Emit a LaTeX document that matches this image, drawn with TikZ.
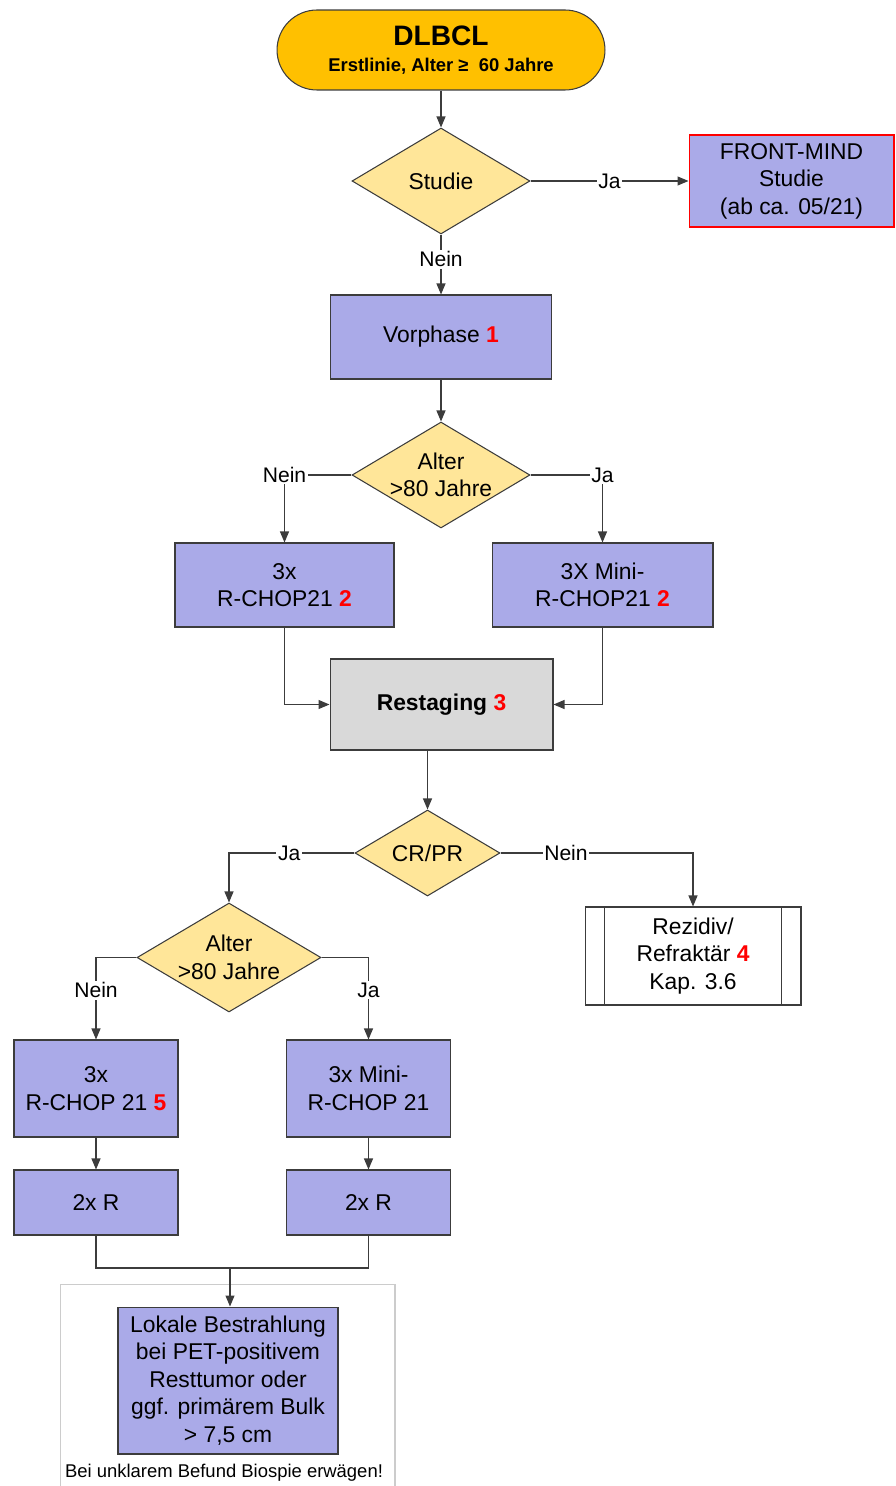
\documentclass[tikz,border=0pt]{standalone}
\usepackage{fontspec}
\setmainfont{Liberation Sans}
\usetikzlibrary{shapes.geometric,arrows.meta}
\definecolor{startcol}{RGB}{255,192,0}
\definecolor{decicol}{RGB}{255,230,153}
\definecolor{boxcol}{RGB}{170,170,232}
\definecolor{restcol}{RGB}{217,217,217}
\definecolor{linecol}{RGB}{60,60,60}
\def\refnum#1{\textcolor{red}{\textbf{#1}}}
\tikzset{
	box/.style={draw=linecol, fill=boxcol, align=center, inner sep=2pt, line width=0.6pt, font=\fontsize{13}{15.6}\selectfont},
	decision/.style={diamond, draw=linecol, fill=decicol, align=center, inner sep=0pt, aspect=1.68, line width=0.6pt, font=\fontsize{13}{15.6}\selectfont},
	lbl/.style={fill=white, inner sep=1pt, font=\fontsize{12}{14}\selectfont},
	conn/.style={draw=linecol, line width=0.6pt},
	arr/.style={conn, -{Triangle[length=2.2mm,width=1.8mm]}}
}

\begin{document}
\begin{tikzpicture}[x=0.02cm, y=-0.02cm]
		%%%%% START %%%%%
		\useasboundingbox (0,0) rectangle (895,1486);
		
		\node[draw=linecol, fill=startcol, line width=0.6pt, rounded corners=0.8cm, minimum width=6.56cm, minimum height=1.6cm, align=center, font=\bfseries] (dlbcl) at (441,50) {{\fontsize{16}{18}\selectfont DLBCL}\\[3pt]{\fontsize{10.5}{12.6}\selectfont Erstlinie, Alter ≥ \ 60 Jahre}};
		
		\node[decision, minimum width=3.56cm, minimum height=2.12cm] (studie) at (441,181) {Studie};
		\node[box, draw=red, minimum width=4.1cm, minimum height=1.84cm] (front) at (791.5,181) {FRONT-MIND\\Studie\\(ab ca. 05/21)};
		\node[box, minimum width=4.42cm, minimum height=1.68cm] (vor) at (441,337) {Vorphase \refnum{1}};
		
		\node[decision, minimum width=3.56cm, minimum height=2.12cm] (alter1) at (441,475) {Alter\\>80 Jahre};
		\node[box, minimum width=4.38cm, minimum height=1.68cm] (rchop1) at (284.5,585) {3x\\R-CHOP21 \refnum{2}};
		\node[box, minimum width=4.42cm, minimum height=1.68cm] (mini1) at (602.5,585) {3X Mini-\\R-CHOP21 \refnum{2}};
		\node[box, fill=restcol, minimum width=4.46cm, minimum height=1.82cm, font=\fontsize{13}{15.6}\selectfont\bfseries] (rest) at (441.5,704.5) {Restaging \refnum{3}};
		
		\node[decision, minimum width=2.9cm, minimum height=1.72cm] (crpr) at (427.5,853) {CR/PR};
		\node[box, fill=white, minimum width=4.32cm, minimum height=1.96cm] (rez) at (693,956) {Rezidiv/\\Refraktär \refnum{4}\\Kap. 3.6};
		\draw[conn] ([xshift=0.4cm]rez.north west) -- ([xshift=0.4cm]rez.south west);
		\draw[conn] ([xshift=-0.4cm]rez.north east) -- ([xshift=-0.4cm]rez.south east);
		
		\node[decision, minimum width=3.68cm, minimum height=2.18cm] (alter2) at (229,957.5) {Alter\\>80 Jahre};
		\node[box, minimum width=3.28cm, minimum height=1.94cm] (rchop2) at (96,1088.5) {3x\\R-CHOP 21 \refnum{5}};
		\node[box, minimum width=3.28cm, minimum height=1.94cm] (mini2) at (368.5,1088.5) {3x Mini-\\R-CHOP 21};
		\node[box, minimum width=3.28cm, minimum height=1.3cm] (rr1) at (96,1202.5) {2x R};
		\node[box, minimum width=3.28cm, minimum height=1.3cm] (rr2) at (368.5,1202.5) {2x R};
		
		\node[draw=black!20, line width=0.6pt, minimum width=6.7cm, minimum height=4.22cm] (rahmen) at (227.5,1389.5) {};
		\node[box, minimum width=4.4cm, minimum height=2.94cm] (lok) at (228,1380.5) {Lokale Bestrahlung\\bei PET-positivem\\Resttumor oder\\ggf. primärem Bulk\\> 7,5 cm};
		\node[font=\fontsize{10.5}{12}\selectfont] (hinweis) at (224,1473) {Bei unklarem Befund Biospie erwägen!};
		
		\draw[arr] (dlbcl) -- (studie);
		\draw[arr] (studie) -- node[lbl]{Ja} (front);
		\draw[arr] (studie) -- node[lbl, pos=0.41]{Nein} (vor);
		\draw[arr] (vor) -- (alter1);
		\draw[arr] (alter1.west) -| node[lbl]{Nein} (rchop1.north);
		\draw[arr] (alter1.east) -| node[lbl]{Ja} (mini1.north);
		\draw[arr] (rchop1.south) |- (rest.west);
		\draw[arr] (mini1.south) |- (rest.east);
		\draw[arr] (rest.south -| crpr.north) -- (crpr.north);
		\draw[arr] (crpr.west) -| node[lbl, pos=0.26]{Ja} (alter2.north);
		\draw[arr] (crpr.east) -| node[lbl, pos=0.17]{Nein} (rez.north);
		\draw[arr] (alter2.west) -| node[lbl, pos=0.7]{Nein} (rchop2.north);
		\draw[arr] (alter2.east) -| node[lbl, pos=0.7]{Ja} (mini2.north);
		\draw[arr] (rchop2) -- (rr1);
		\draw[arr] (mini2) -- (rr2);
		
		\coordinate (join) at (230,1268);
		\draw[conn] (rr1.south) |- (join) -| (rr2.south);
		\draw[arr] (join) -- (join |- lok.north);
		%%%%% END %%%%%
\end{tikzpicture}
\end{document}
